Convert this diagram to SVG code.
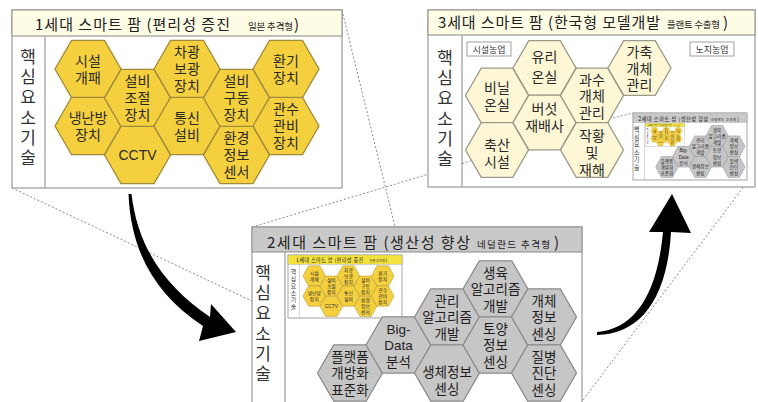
<svg xmlns="http://www.w3.org/2000/svg" xmlns:xlink="http://www.w3.org/1999/xlink" width="758" height="402" viewBox="0 0 758 402">
<style>
text{font-family:"Noto Sans CJK KR","Noto Sans",sans-serif;}
.frame{fill:#fff;stroke:#9a9a9a;stroke-width:1.2;}
.hdrY{fill:#fffce6;stroke:#9a9a9a;stroke-width:1.2;}
.hdrG{fill:#c9c9c9;stroke:#9a9a9a;stroke-width:1.2;}
.hdrB{fill:#f3e23c;stroke:#9a9a9a;stroke-width:1.2;}
.div{stroke:#9a9a9a;stroke-width:1.2;}
.ttl{font-size:15px;fill:#222;}
.ttls{font-size:9.5px;fill:#222;}
.side{font-size:17px;fill:#333;writing-mode:vertical-rl;text-orientation:upright;letter-spacing:3.2px;}
.hy{fill:#f4cf3e;stroke:#a08c3c;stroke-width:1.3;}
.hg{fill:#c6c6c6;stroke:#8c8c8c;stroke-width:1.3;}
.hc{fill:#fdf7d6;stroke:#9a9a8a;stroke-width:1.3;}
text.t{font-family:"Liberation Sans","Noto Sans CJK KR",sans-serif;font-size:14px;fill:#2a2a2a;text-anchor:middle;}
text.tg{font-family:"Liberation Sans","Noto Sans CJK KR",sans-serif;font-size:13.5px;fill:#1e1e1e;text-anchor:middle;}
.lbl{fill:#fff;stroke:#a0a0a0;stroke-width:1;}
.lt{font-size:9px;fill:#333;text-anchor:middle;}
.dot{fill:none;stroke:#8a8a8a;stroke-width:1;stroke-dasharray:2 2;}
.arr{fill:#000;}
</style>
<defs>
<path id="hxA" d="M-33,0L-16.5,-28.6L16.5,-28.6L33,0L16.5,28.6L-16.5,28.6Z"/>
<path id="hxB" d="M-32.5,0L-16.25,-28.15L16.25,-28.15L32.5,0L16.25,28.15L-16.25,28.15Z"/>
<path id="hxC" d="M-31.5,0L-15.75,-27.3L15.75,-27.3L31.5,0L15.75,27.3L-15.75,27.3Z"/>
</defs>

<g id="connectors-dotted">
<line class="dot" x1="342" y1="10" x2="402" y2="255"/>
<line class="dot" x1="12" y1="188" x2="288" y2="318"/>
<line class="dot" x1="252" y1="227" x2="633" y2="113"/>
<line class="dot" x1="748" y1="181" x2="580" y2="404"/>
</g>

<!-- Panel 1 -->
<g id="panel1">
<rect class="frame" x="12" y="10" width="330" height="178"/>
<rect id="p1-hdr" class="hdrY" x="12" y="10" width="330" height="26"/>
<g id="p1-title">
<text class="ttl" x="35" y="30" textLength="195" lengthAdjust="spacing">1세대 스마트 팜 (편리성 증진</text>
<text class="ttls" x="248" y="30" textLength="45" lengthAdjust="spacing">일본 추격형</text>
<text class="ttl" x="294" y="30">)</text>
</g>
<line class="div" x1="45" y1="36" x2="45" y2="188"/>
<g id="p1-side">
<text class="side" x="28" y="48">핵심요소기술</text>
</g>
<g id="p1-hexes">
<g id="n1-1"><use href="#hxA" x="88" y="69" class="hy"/><text class="t" x="88" y="65.5"><tspan x="88">시설</tspan><tspan x="88" dy="17">개패</tspan></text></g>
<g id="n1-2"><use href="#hxA" x="88" y="126" class="hy"/><text class="t" x="88" y="122.5"><tspan x="88">냉난방</tspan><tspan x="88" dy="17">장치</tspan></text></g>
<g id="n1-3"><use href="#hxA" x="137.5" y="98" class="hy"/><text class="t" x="137.5" y="86"><tspan x="137.5">설비</tspan><tspan x="137.5" dy="17">조절</tspan><tspan x="137.5" dy="17">장치</tspan></text></g>
<g id="n1-4"><use href="#hxA" x="137.5" y="155" class="hy"/><text class="t" x="137.5" y="160">CCTV</text></g>
<g id="n1-5"><use href="#hxA" x="187" y="69" class="hy"/><text class="t" x="187" y="57"><tspan x="187">차광</tspan><tspan x="187" dy="17">보광</tspan><tspan x="187" dy="17">장치</tspan></text></g>
<g id="n1-6"><use href="#hxA" x="187" y="126" class="hy"/><text class="t" x="187" y="122.5"><tspan x="187">통신</tspan><tspan x="187" dy="17">설비</tspan></text></g>
<g id="n1-7"><use href="#hxA" x="236.5" y="98" class="hy"/><text class="t" x="236.5" y="86"><tspan x="236.5">설비</tspan><tspan x="236.5" dy="17">구동</tspan><tspan x="236.5" dy="17">장치</tspan></text></g>
<g id="n1-8"><use href="#hxA" x="236.5" y="155" class="hy"/><text class="t" x="236.5" y="143"><tspan x="236.5">환경</tspan><tspan x="236.5" dy="17">정보</tspan><tspan x="236.5" dy="17">센서</tspan></text></g>
<g id="n1-9"><use href="#hxA" x="286" y="69" class="hy"/><text class="t" x="286" y="65.5"><tspan x="286">환기</tspan><tspan x="286" dy="17">장치</tspan></text></g>
<g id="n1-10"><use href="#hxA" x="286" y="126" class="hy"/><text class="t" x="286" y="114"><tspan x="286">관수</tspan><tspan x="286" dy="17">관비</tspan><tspan x="286" dy="17">장치</tspan></text></g>
</g>
</g>

<!-- Panel 2 -->
<g id="panel2">
<rect class="frame" x="252" y="227" width="330" height="181"/>
<rect class="hdrG" x="252" y="227" width="330" height="25"/>
<g id="p2-title">
<text class="ttl" x="267" y="248" textLength="203" lengthAdjust="spacing">2세대 스마트 팜 (생산성 향상</text>
<text class="ttls" x="477" y="248" textLength="73" lengthAdjust="spacing">네덜란드 추격형</text>
<text class="ttl" x="554" y="248">)</text>
</g>
<line class="div" x1="285" y1="252" x2="285" y2="408"/>
<g id="p2-side">
<text class="side" x="263" y="264">핵심요소기술</text>
</g>
<g id="thumb1" transform="translate(288,255) scale(0.3455,0.354) translate(-12,-10)">
<rect class="frame" x="12" y="10" width="330" height="178" style="stroke-width:2.5"/>
<rect class="hdrB" x="12" y="10" width="330" height="26"/>
<use href="#p1-title"/>
<line class="div" x1="45" y1="36" x2="45" y2="188"/>
<use href="#p1-side"/>
<use href="#p1-hexes"/>
</g>
<g id="p2-hexes">
<g id="n2-1"><use href="#hxB" x="350" y="373" class="hg"/><text class="tg" x="350" y="361.5"><tspan x="350">플랫폼</tspan><tspan x="350" dy="16.5">개방화</tspan><tspan x="350" dy="16.5">표준화</tspan></text></g>
<g id="n2-2"><use href="#hxB" x="398.5" y="345" class="hg"/><text class="tg" x="398.5" y="333.5"><tspan x="398.5">Big-</tspan><tspan x="398.5" dy="16.5">Data</tspan><tspan x="398.5" dy="16.5">분석</tspan></text></g>
<g id="n2-3"><use href="#hxB" x="447" y="317" class="hg"/><text class="tg" x="447" y="305.5"><tspan x="447">관리</tspan><tspan x="447" dy="16.5">알고리즘</tspan><tspan x="447" dy="16.5">개발</tspan></text></g>
<g id="n2-4"><use href="#hxB" x="447" y="373" class="hg"/><text class="tg" x="447" y="377"><tspan x="447">생체정보</tspan><tspan x="447" dy="17">센싱</tspan></text></g>
<g id="n2-5"><use href="#hxB" x="495.5" y="289" class="hg"/><text class="tg" x="495.5" y="277.5"><tspan x="495.5">생육</tspan><tspan x="495.5" dy="16.5">알고리즘</tspan><tspan x="495.5" dy="16.5">개발</tspan></text></g>
<g id="n2-6"><use href="#hxB" x="495.5" y="345" class="hg"/><text class="tg" x="495.5" y="333.5"><tspan x="495.5">토양</tspan><tspan x="495.5" dy="16.5">정보</tspan><tspan x="495.5" dy="16.5">센싱</tspan></text></g>
<g id="n2-7"><use href="#hxB" x="544" y="317" class="hg"/><text class="tg" x="544" y="305.5"><tspan x="544">개체</tspan><tspan x="544" dy="16.5">정보</tspan><tspan x="544" dy="16.5">센싱</tspan></text></g>
<g id="n2-8"><use href="#hxB" x="544" y="373" class="hg"/><text class="tg" x="544" y="361.5"><tspan x="544">질병</tspan><tspan x="544" dy="16.5">진단</tspan><tspan x="544" dy="16.5">센싱</tspan></text></g>
</g>
</g>

<!-- Panel 3 -->
<g id="panel3">
<rect class="frame" x="428" y="10" width="327" height="177"/>
<rect class="hdrY" x="428" y="10" width="327" height="25"/>
<text class="ttl" x="438" y="28" textLength="222" lengthAdjust="spacing">3세대 스마트 팜 (한국형 모델개발</text>
<text class="ttls" x="667" y="28" textLength="53" lengthAdjust="spacing">플랜트 수출형</text>
<text class="ttl" x="723" y="28">)</text>
<line class="div" x1="462" y1="35" x2="462" y2="187"/>
<text class="side" x="445" y="49">핵심요소기술</text>
<g id="lbl-facility"><rect class="lbl" x="467" y="42" width="44" height="14"/><text class="lt" x="489" y="52.5">시설농업</text></g>
<g id="lbl-field"><rect class="lbl" x="690" y="42" width="44" height="14"/><text class="lt" x="712" y="52.5">노지농업</text></g>
<line class="dot" x1="462" y1="163.6" x2="471" y2="160.9"/>
<line class="dot" x1="609" y1="119" x2="633" y2="113"/>
<g id="n3-1"><use href="#hxC" x="497" y="95.5" class="hc"/><text class="t" x="497" y="93"><tspan x="497">비닐</tspan><tspan x="497" dy="17">온실</tspan></text></g>
<g id="n3-2"><use href="#hxC" x="497" y="150" class="hc"/><text class="t" x="497" y="150"><tspan x="497">축산</tspan><tspan x="497" dy="17">시설</tspan></text></g>
<g id="n3-3"><use href="#hxC" x="544.5" y="68" class="hc"/><text class="t" x="544.5" y="62"><tspan x="544.5">유리</tspan><tspan x="544.5" dy="20">온실</tspan></text></g>
<g id="n3-4"><use href="#hxC" x="544.5" y="122.5" class="hc"/><text class="t" x="544.5" y="114"><tspan x="544.5">버섯</tspan><tspan x="544.5" dy="17">재배사</tspan></text></g>
<g id="n3-5"><use href="#hxC" x="592" y="95.5" class="hc"/><text class="t" x="592" y="84.5"><tspan x="592">과수</tspan><tspan x="592" dy="16.5">개체</tspan><tspan x="592" dy="16.5">관리</tspan></text></g>
<g id="n3-6"><use href="#hxC" x="592" y="150" class="hc"/><text class="t" x="592" y="141"><tspan x="592">작황</tspan><tspan x="592" dy="17">및</tspan><tspan x="592" dy="17">재해</tspan></text></g>
<g id="n3-7"><use href="#hxC" x="639.5" y="68" class="hc"/><text class="t" x="639.5" y="57"><tspan x="639.5">가축</tspan><tspan x="639.5" dy="16.5">개체</tspan><tspan x="639.5" dy="16.5">관리</tspan></text></g>
<g id="thumb2" transform="translate(633,113) scale(0.3455,0.37) translate(-252,-227)">
<rect class="frame" x="252" y="227" width="330" height="181" style="stroke-width:2.5"/>
<rect class="hdrG" x="252" y="227" width="330" height="25"/>
<use href="#p2-title"/>
<line class="div" x1="285" y1="252" x2="285" y2="408"/>
<use href="#p2-side"/>
<use href="#thumb1"/>
<use href="#p2-hexes"/>
</g>
</g>

<g id="connectors-arrows">
<path class="arr" d="M128.5,194 C131,253 156,295 203,326 L199,341 L236,332 L211,304 L210,317 C166,287 138,249 131.5,194 Z"/>
<path class="arr" d="M597,335 C640,334 667,300 671,232 L691,233 L672,194 L649,232 L663,232 C657,296 634,329 597,332 Z"/>
</g>
</svg>
